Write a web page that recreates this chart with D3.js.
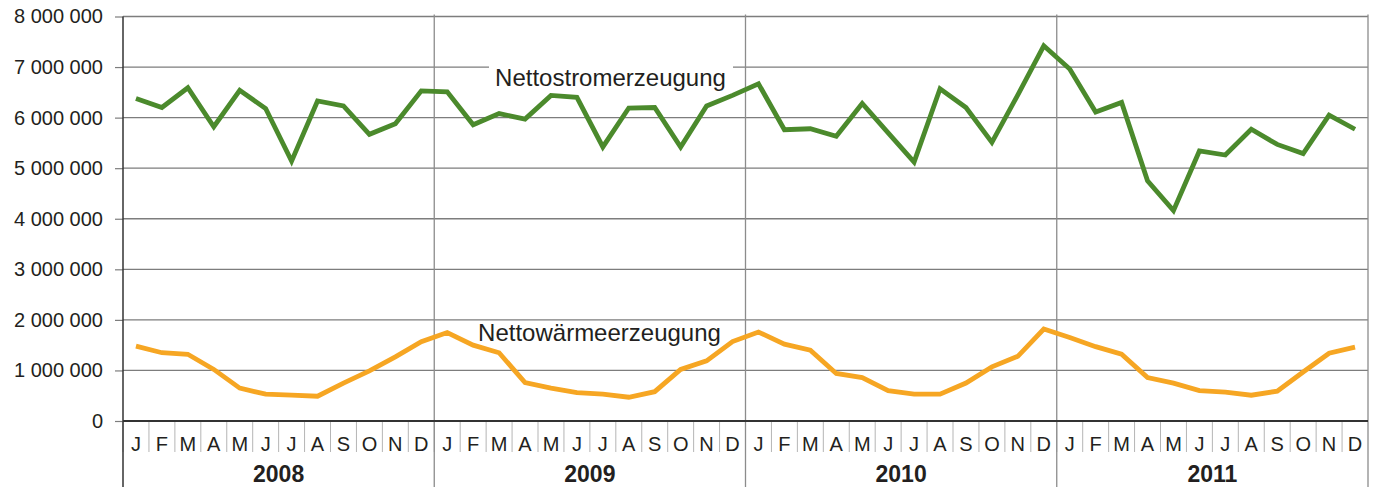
<!DOCTYPE html>
<html>
<head>
<meta charset="utf-8">
<script src="https://cdn.jsdelivr.net/npm/d3@7"></script>
<style>
body { margin: 0; background: #fff; }
text { font-family: "Liberation Sans", Arial, sans-serif; fill: #231f20; }
</style>
</head>
<body>
<script>
var w = 1378, h = 487;
var margin = {"left": 123, "right": 10, "top": 16.5, "bottom": 66};

var years = ["2008", "2009", "2010", "2011"];
var monthLetters = ["J","F","M","A","M","J","J","A","S","O","N","D"];
var yTicks = [0, 1000000, 2000000, 3000000, 4000000, 5000000, 6000000, 7000000, 8000000];

// Nettostromerzeugung, monthly 2008-2011
var strom = [
    6380000, 6200000, 6590000, 5820000, 6540000, 6180000, 5140000, 6330000, 6230000, 5670000, 5880000, 6530000,
    6510000, 5860000, 6080000, 5970000, 6440000, 6400000, 5420000, 6190000, 6200000, 5420000, 6230000, 6440000,
    6670000, 5760000, 5780000, 5630000, 6280000, 5700000, 5120000, 6570000, 6200000, 5510000, 6450000, 7420000,
    6960000, 6110000, 6300000, 4750000, 4160000, 5340000, 5260000, 5770000, 5470000, 5290000, 6050000, 5770000
];
// Nettowärmeerzeugung, monthly 2008-2011
var waerme = [
    1480000, 1350000, 1320000, 1020000, 650000, 530000, 510000, 490000, 750000, 990000, 1270000, 1570000,
    1750000, 1500000, 1350000, 760000, 650000, 560000, 530000, 470000, 580000, 1020000, 1190000, 1570000,
    1760000, 1520000, 1400000, 940000, 860000, 600000, 530000, 530000, 750000, 1070000, 1280000, 1820000,
    1650000, 1470000, 1320000, 860000, 750000, 600000, 570000, 510000, 590000, 970000, 1340000, 1460000
];
var seriesNames = ["Nettostromerzeugung", "Nettowärmeerzeugung"];
var seriesColors = ["#4b8a2c", "#f6a623"];

var svg = d3.select("body")
            .append("svg")
            .attr("width", w)
            .attr("height", h);

var plotBottom = 421;
var plotRight = w - margin.right;

var months = [];
years.forEach(function(y){
    monthLetters.forEach(function(m, i){ months.push(y + "-" + i); });
});

var xScale = d3.scaleBand()
                .domain(months)
                .range([margin.left, plotRight]);

var yearScale = d3.scaleBand()
                .domain(years)
                .range([margin.left, plotRight]);

var yScale = d3.scaleLinear()
                .domain([0, 8000000])
                .range([plotBottom, margin.top]);

var fmt = function(d){ return d3.format(",")(d).replace(/,/g, " "); };

// horizontal grid + y axis labels
var yAxis = d3.axisLeft(yScale)
                .tickValues(yTicks)
                .tickSize(8)
                .tickPadding(12)
                .tickFormat(fmt);

var yg = svg.append("g")
    .attr("id", "y-axis")
    .attr("transform", "translate(" + margin.left + ",0)")
    .call(yAxis);
yg.select(".domain").remove();
yg.selectAll("line").attr("stroke", "#7d7d7d").attr("stroke-width", 1.2);
yg.selectAll("text").style("font-size", "20px").attr("fill", "#231f20");

svg.append("g")
    .attr("id", "grid")
    .selectAll("line")
    .data(yTicks.filter(function(d){ return d > 0; }))
    .enter()
    .append("line")
    .attr("x1", margin.left)
    .attr("x2", plotRight)
    .attr("y1", function(d){ return yScale(d); })
    .attr("y2", function(d){ return yScale(d); })
    .attr("stroke", "#7d7d7d")
    .attr("stroke-width", 1.3);

// month separators
svg.append("g")
    .selectAll("line")
    .data(months)
    .enter()
    .append("line")
    .attr("x1", function(d){ return xScale(d); })
    .attr("x2", function(d){ return xScale(d); })
    .attr("y1", plotBottom)
    .attr("y2", 452)
    .attr("stroke", "#b5b5b5")
    .attr("stroke-width", 1);

// year separators (full height)
svg.append("g")
    .selectAll("line")
    .data(years.slice(1).concat(["end"]))
    .enter()
    .append("line")
    .attr("x1", function(d){ return d === "end" ? plotRight : yearScale(d); })
    .attr("x2", function(d){ return d === "end" ? plotRight : yearScale(d); })
    .attr("y1", margin.top - 2)
    .attr("y2", h)
    .attr("stroke", "#8c8c8c")
    .attr("stroke-width", 1.3);

// left axis line
svg.append("line")
    .attr("x1", margin.left).attr("x2", margin.left)
    .attr("y1", margin.top).attr("y2", h)
    .attr("stroke", "#333")
    .attr("stroke-width", 1.5);

// zero line
svg.append("line")
    .attr("x1", margin.left).attr("x2", plotRight)
    .attr("y1", plotBottom).attr("y2", plotBottom)
    .attr("stroke", "#333")
    .attr("stroke-width", 2);

// month letters
svg.append("g")
    .selectAll("text")
    .data(months)
    .enter()
    .append("text")
    .attr("x", function(d){ return xScale(d) + xScale.bandwidth()/2; })
    .attr("y", 451)
    .attr("text-anchor", "middle")
    .style("font-size", "20px")
    .text(function(d){ return monthLetters[+d.split("-")[1]]; });

// year labels
svg.append("g")
    .selectAll("text")
    .data(years)
    .enter()
    .append("text")
    .attr("x", function(d){ return yearScale(d) + yearScale.bandwidth()/2; })
    .attr("y", 482)
    .attr("text-anchor", "middle")
    .style("font-size", "23px")
    .style("font-weight", "bold")
    .text(function(d){ return d; });

// label background where the top label crosses the 7 000 000 gridline
var line = d3.line()
    .x(function(d, i){ return xScale(months[i]) + xScale.bandwidth()/2; })
    .y(function(d){ return yScale(d); });

svg.append("rect")
    .attr("x", 489).attr("y", 60)
    .attr("width", 244).attr("height", 14)
    .attr("fill", "#fff");

svg.append("g")
    .selectAll("path")
    .data([strom, waerme])
    .enter()
    .append("path")
    .attr("d", line)
    .attr("fill", "none")
    .attr("stroke", function(d, i){ return seriesColors[i]; })
    .attr("stroke-width", 4.8)
    .attr("stroke-linejoin", "miter");

var labelPos = [[610.5, 86], [599.5, 341]];
svg.append("g")
    .selectAll("text")
    .data(seriesNames)
    .enter()
    .append("text")
    .attr("x", function(d, i){ return labelPos[i][0]; })
    .attr("y", function(d, i){ return labelPos[i][1]; })
    .attr("text-anchor", "middle")
    .style("font-size", "24px")
    .text(function(d){ return d; });
</script>
</body>
</html>
